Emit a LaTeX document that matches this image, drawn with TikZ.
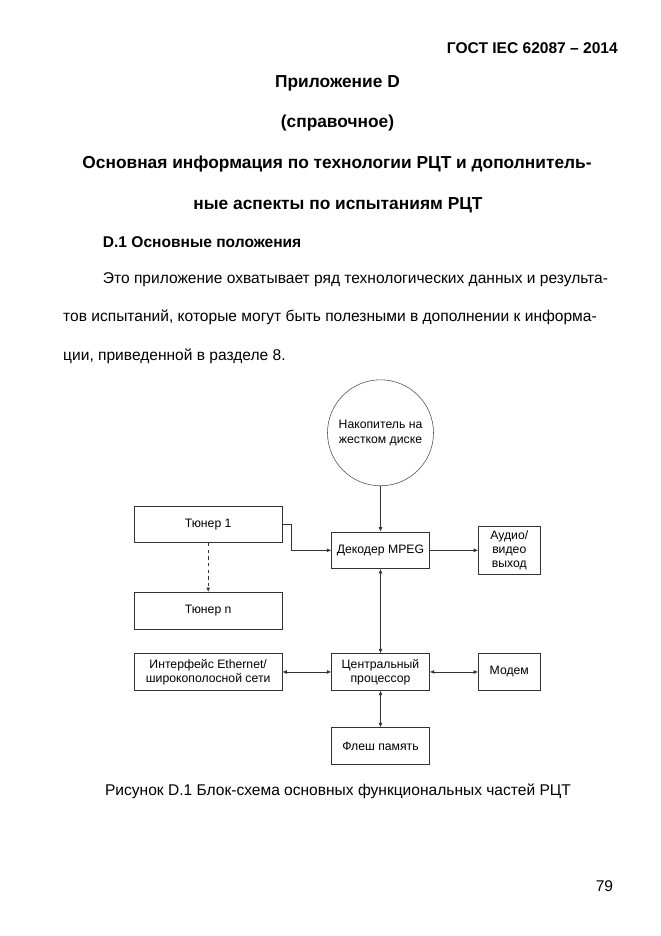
\documentclass[tikz,border=0pt]{standalone}
\usepackage{fontspec}
\setmainfont{Liberation Sans}
\usetikzlibrary{arrows.meta, positioning}
\tikzstyle{blockbox} = [rectangle, draw=black!80, line width=0.6pt, minimum width=133pt, minimum height=33pt,
                        inner sep=0pt, align=center, font=\fontsize{11}{12.6}\selectfont]
\tikzstyle{unitbox} = [blockbox, minimum width=88pt]
\tikzstyle{smallbox} = [blockbox, minimum width=55.4pt]
\tikzstyle{diskcircle} = [circle, draw=black!70, line width=0.5pt, minimum size=95.4pt, inner sep=0pt,
                          align=center, font=\fontsize{11}{13.5}\selectfont]
\tikzstyle{arrow} = [line width=0.6pt, draw=black!80, -{Latex[length=4pt,width=3.5pt]}]
\tikzstyle{dblarrow} = [line width=0.6pt, draw=black!80, {Latex[length=4pt,width=3.5pt]}-{Latex[length=4pt,width=3.5pt]}]
\tikzstyle{pagetext} = [inner sep=0pt, font=\fontsize{14}{16}\selectfont]
\tikzstyle{headtext} = [inner sep=0pt, font=\fontsize{14}{16}\selectfont\bfseries]
\tikzstyle{titletext} = [inner sep=0pt, font=\fontsize{15.6}{18}\selectfont\bfseries]

\begin{document}
\begin{tikzpicture}[x=0.9pt, y=-0.9pt]
    % Page frame
    \useasboundingbox (0,0) rectangle (661,936);

    % Page text
    \node[headtext, anchor=base east] (gost) at (618,53.5) {ГОСТ IEC 62087 – 2014};
    \node[titletext, anchor=base] (annex) at (337.5,87) {Приложение D};
    \node[titletext, anchor=base] (kind) at (337.5,127) {(справочное)};
    \node[titletext, anchor=base] (title1) at (337,168) {Основная информация по технологии РЦТ и дополнитель-};
    \node[titletext, anchor=base] (title2) at (338,209) {ные аспекты по испытаниям РЦТ};
    \node[headtext, anchor=base west] (sect) at (102.7,247) {D.1 Основные положения};
    \node[pagetext, anchor=base west] (par1) at (102.7,283.3) {Это приложение охватывает ряд технологических данных и результа-};
    \node[pagetext, anchor=base west] (par2) at (63,321.7) {тов испытаний, которые могут быть полезными в дополнении к информа-};
    \node[pagetext, anchor=base west] (par3) at (63,360) {ции, приведенной в разделе 8.};

    % Blocks
    \node[unitbox] (decoder) at (380.5,550.3) {Декодер MPEG};
    \node[diskcircle, above=41pt of decoder] (disk) {Накопитель на\\жестком диске};
    \node[smallbox, right=43.6pt of decoder, minimum height=43.5pt] (audio) {Аудио/\\видео\\выход};
    \node[unitbox, below=75.9pt of decoder] (cpu) {Центральный\\процессор};
    \node[unitbox, below=33pt of cpu] (flash) {Флеш память};
    \node[smallbox, right=43.6pt of cpu] (modem) {Модем};
    \node[blockbox, left=44pt of cpu] (ether) {Интерфейс Ethernet/\\широкополосной сети};
    \node[blockbox, above=21.6pt of ether] (tunern) {Тюнер n};
    \node[blockbox, above=44pt of tunern] (tuner1) {Тюнер 1};

    % Connectors
    \draw[arrow] (disk) -- (decoder);
    \draw[arrow] (tuner1.east) -- ++(8.1pt,0) |- (decoder.west);
    \draw[arrow, dashed] (tuner1) -- (tunern);
    \draw[arrow] (decoder) -- (audio);
    \draw[dblarrow] (decoder) -- (cpu);
    \draw[dblarrow] (cpu) -- (ether);
    \draw[dblarrow] (cpu) -- (modem);
    \draw[dblarrow] (cpu) -- (flash);

    % Caption and page number
    \node[pagetext, anchor=base] (caption) at (338,795) {Рисунок D.1 Блок-схема основных функциональных частей РЦТ};
    \node[pagetext, anchor=base east] (pagenum) at (613.3,891.7) {79};
\end{tikzpicture}
\end{document}
